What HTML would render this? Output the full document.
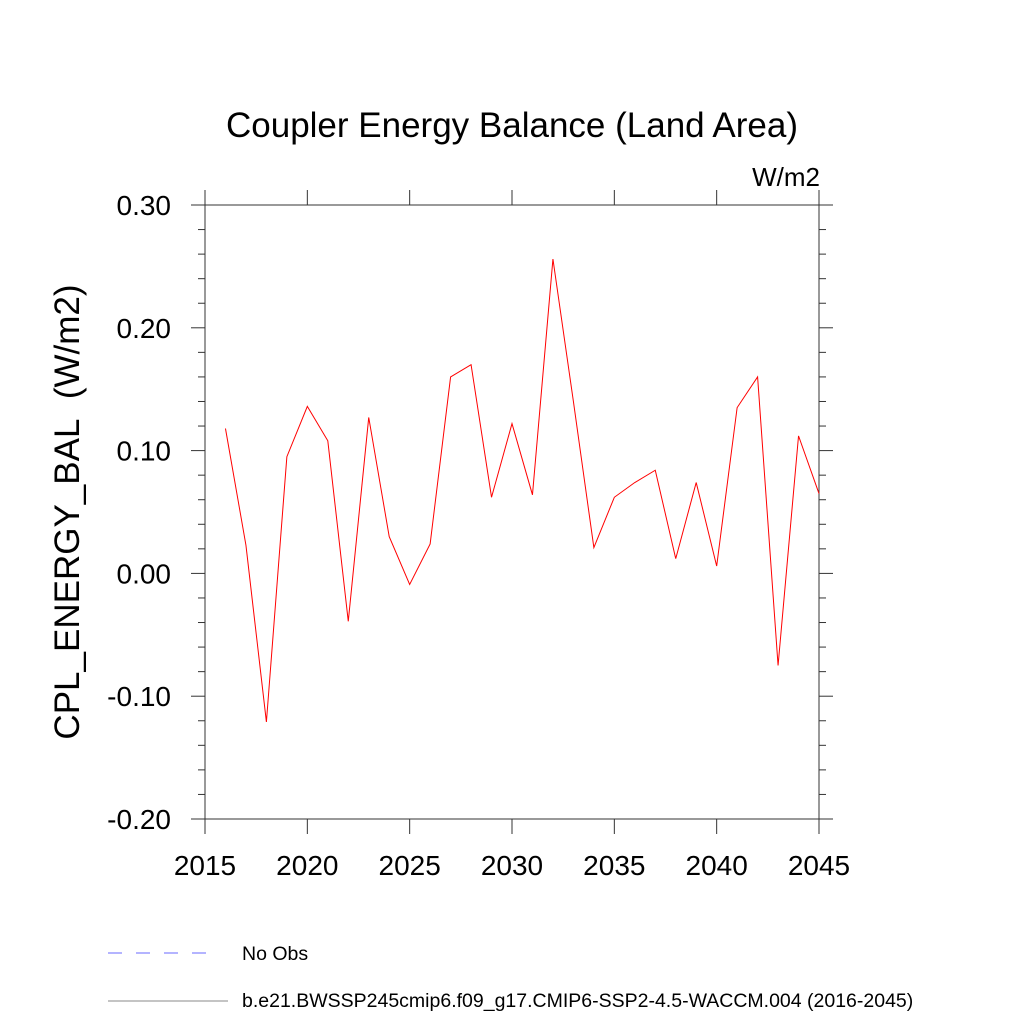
<!DOCTYPE html>
<html><head><meta charset="utf-8"><style>body{margin:0;background:#fff}svg{display:block}text{font-family:"Liberation Sans",sans-serif}</style></head>
<body>
<svg id="chart" width="1024" height="1024" xmlns="http://www.w3.org/2000/svg">
<text x="512" y="137" font-size="35" text-anchor="middle">Coupler Energy Balance (Land Area)</text>
<text x="820" y="186" font-size="26" text-anchor="end">W/m2</text>
<text transform="translate(79,512) rotate(-90)" font-size="35" text-anchor="middle">CPL_ENERGY_BAL&#160;&#160;(W/m2)</text>
<g id="axes"></g>
<polyline id="series" fill="none" stroke="#ff0000" stroke-width="1"></polyline>
<line x1="108" y1="953" x2="216" y2="953" stroke="#6a6aff" stroke-width="1" stroke-dasharray="14,14"/>
<text x="242" y="960" font-size="19.5">No Obs</text>
<line x1="108" y1="1001" x2="228" y2="1001" stroke="#888" stroke-width="1"/>
<text x="242" y="1007" font-size="19.5">b.e21.BWSSP245cmip6.f09_g17.CMIP6-SSP2-4.5-WACCM.004 (2016-2045)</text>
</svg>
<script>
const years=[2016,2017,2018,2019,2020,2021,2022,2023,2024,2025,2026,2027,2028,2029,2030,2031,2032,2033,2034,2035,2036,2037,2038,2039,2040,2041,2042,2043,2044,2045];
const values=[0.118,0.023,-0.121,0.095,0.136,0.108,-0.039,0.127,0.030,-0.009,0.024,0.160,0.170,0.062,0.122,0.064,0.256,0.140,0.021,0.062,0.074,0.084,0.012,0.074,0.006,0.135,0.160,-0.075,0.112,0.065];
const xTicks=[2015,2020,2025,2030,2035,2040,2045];
const yTicks=[-0.2,-0.1,0,0.1,0.2,0.3];
const yTickLabels=["-0.20","-0.10","0.00","0.10","0.20","0.30"];
const L=205,R=819,T=205,B=819;
const xs=v=>L+(v-2015)/30*(R-L);
const ys=v=>B-(v+0.2)/0.5*(B-T);
const NS="http://www.w3.org/2000/svg";
const g=document.getElementById('axes');
function ln(x1,y1,x2,y2,name){const e=document.createElementNS(NS,'line');e.setAttribute('x1',x1);e.setAttribute('y1',y1);e.setAttribute('x2',x2);e.setAttribute('y2',y2);e.setAttribute('stroke','#333');e.setAttribute('stroke-width','1');


g.appendChild(e);}
function tx(x,y,s,anchor,name){const e=document.createElementNS(NS,'text');e.setAttribute('x',x);e.setAttribute('y',y);e.setAttribute('font-size','28');e.setAttribute('text-anchor',anchor);e.textContent=s;


g.appendChild(e);}
const f=document.createElementNS(NS,'rect');f.setAttribute('x',L);f.setAttribute('y',T);f.setAttribute('width',R-L);f.setAttribute('height',B-T);f.setAttribute('fill','none');f.setAttribute('stroke','#333');


g.appendChild(f);
xTicks.forEach(v=>{const x=xs(v);ln(x,B,x,B+15,'x-tick');ln(x,T,x,T-15,'x-tick-top');tx(x,B+56,String(v),'middle','x-tick-label');});
yTicks.forEach((v,i)=>{const y=ys(v);ln(L-14,y,L,y,'y-tick');ln(R,y,R+14,y,'y-tick-right');tx(L-34,y+10,yTickLabels[i],'end','y-tick-label');});
for(let k=-10;k<=15;k++){const v=k*0.02;if(k%5===0)continue;const y=ys(v);ln(L-7,y,L,y,'y-minor-tick');ln(R,y,R+7,y,'y-minor-tick-right');}
document.getElementById('series').setAttribute('points',years.map((yr,i)=>xs(yr)+','+ys(values[i])).join(' '));
</script>
</body></html>
